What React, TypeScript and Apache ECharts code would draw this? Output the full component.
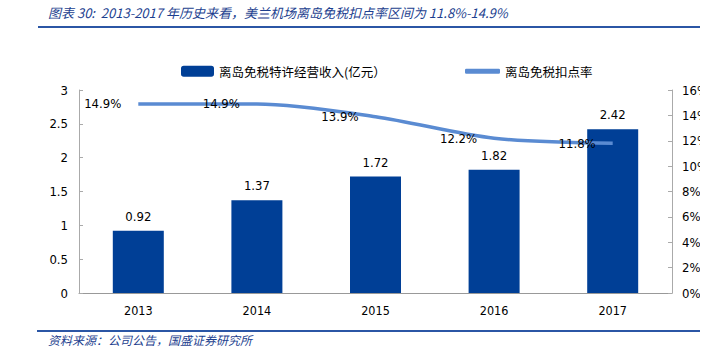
import React, { useEffect, useRef } from "react";
import * as echarts from "echarts";

const years = ["2013", "2014", "2015", "2016", "2017"];
const revenue = [0.92, 1.37, 1.72, 1.82, 2.42];
const rate = [14.9, 14.9, 13.9, 12.2, 11.8];
const barName = "离岛免税特许经营收入(亿元）";
const lineName = "离岛免税扣点率";
const titleText = "图表 30:  2013-2017 年历史来看，美兰机场离岛免税扣点率区间为 11.8%-14.9%";
const sourceText = "资料来源：公司公告，国盛证券研究所";

const NUM_FONT = "'DejaVu Sans Condensed', 'DejaVu Sans', sans-serif";
const CJK_FONT = "'Noto Sans CJK SC', sans-serif";

export default function App() {
  const ref = useRef<HTMLDivElement>(null);
  useEffect(() => {
    const chart = echarts.init(ref.current!, null, { renderer: "svg" });
    chart.setOption({
      animation: false,
      backgroundColor: "#ffffff",
      textStyle: { fontFamily: NUM_FONT },
      graphic: [
        {
          type: "text",
          left: 48,
          top: 6,
          z: 10,
          style: {
            text: titleText,
            fill: "#1d3f8f",
            font: "italic 13px " + CJK_FONT,
          },
        },
        {
          type: "rect",
          z: 10,
          shape: { x: 38, y: 26, width: 662, height: 2 },
          style: { fill: "#2b56a5" },
        },
        {
          type: "rect",
          z: 10,
          shape: { x: 37, y: 330, width: 663, height: 2 },
          style: { fill: "#2b56a5" },
        },
        {
          type: "text",
          left: 48,
          top: 333,
          z: 10,
          style: {
            text: sourceText,
            fill: "#1d3f8f",
            font: "italic 12px " + CJK_FONT,
          },
        },
        {
          type: "rect",
          z: 100,
          shape: { x: 700, y: 0, width: 20, height: 352 },
          style: { fill: "#ffffff" },
        },
      ],
      legend: [
        {
          data: [barName],
          left: 176,
          top: 60,
          icon: "roundRect",
          itemWidth: 33,
          itemHeight: 11,
          textStyle: { fontFamily: CJK_FONT, fontSize: 12.5, color: "#000" },
        },
        {
          data: [lineName],
          left: 460,
          top: 60,
          icon: "roundRect",
          itemWidth: 35,
          itemHeight: 5,
          textStyle: { fontFamily: CJK_FONT, fontSize: 12.5, color: "#000" },
        },
      ],
      grid: { left: 79, right: 48, top: 90, bottom: 59 },
      xAxis: {
        type: "category",
        data: years,
        axisLine: { lineStyle: { color: "#999" } },
        axisTick: { inside: true, lineStyle: { color: "#999" }, length: 5 },
        axisLabel: { color: "#000", fontSize: 12.5, fontFamily: NUM_FONT, margin: 11 },
      },
      yAxis: [
        {
          type: "value",
          min: 0,
          max: 3,
          interval: 0.5,
          axisLine: { show: true, lineStyle: { color: "#aaa" } },
          axisTick: { show: true, inside: true, length: 4, lineStyle: { color: "#aaa" } },
          splitLine: { show: false },
          axisLabel: { color: "#000", fontSize: 13, fontFamily: NUM_FONT, margin: 11 },
        },
        {
          type: "value",
          min: 0,
          max: 16,
          interval: 2,
          position: "right",
          axisLine: { show: true, lineStyle: { color: "#aaa" } },
          axisTick: { show: true, inside: true, length: 4, lineStyle: { color: "#aaa" } },
          splitLine: { show: false },
          axisLabel: {
            color: "#000",
            fontSize: 13,
            fontFamily: NUM_FONT,
            margin: 10,
            formatter: "{value}%",
          },
        },
      ],
      series: [
        {
          name: barName,
          type: "bar",
          data: revenue,
          barWidth: "43%",
          itemStyle: { color: "#003f96" },
          label: {
            show: true,
            position: "top",
            distance: 8,
            color: "#000",
            fontSize: 13,
            fontFamily: NUM_FONT,
          },
        },
        {
          name: lineName,
          type: "line",
          yAxisIndex: 1,
          data: rate,
          smooth: 0.3,
          symbol: "circle",
          symbolSize: 0,
          showSymbol: true,
          lineStyle: { color: "#5a8bd2", width: 3.5 },
          itemStyle: { color: "#5a8bd2" },
          label: {
            show: true,
            position: "left",
            distance: 17,
            color: "#000",
            fontSize: 13,
            fontFamily: NUM_FONT,
            formatter: (p: any) => p.value.toFixed(1) + "%",
          },
        },
      ],
    });
    return () => chart.dispose();
  }, []);
  return (
    <div
      ref={ref}
      style={{ position: "absolute", left: 0, top: 0, width: 720, height: 352 }}
    />
  );
}
